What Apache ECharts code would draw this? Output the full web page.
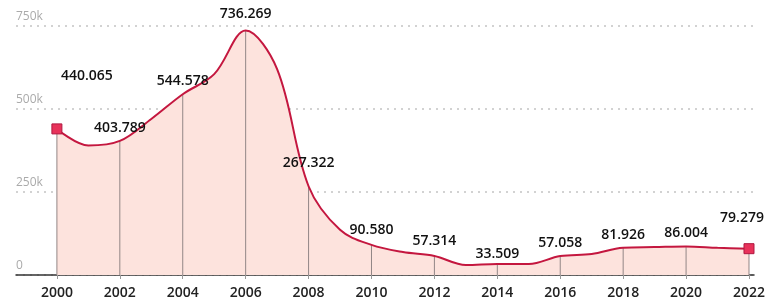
<!DOCTYPE html>
<html>
<head>
<meta charset="utf-8">
<script src="https://cdn.jsdelivr.net/npm/echarts@6/dist/echarts.min.js"></script>
<style>
  html, body { margin: 0; padding: 0; background: #fff; }
  #chart { width: 768px; height: 306px; }
</style>
</head>
<body>
<div id="chart"></div>
<script>
// years with a value label (every 2 years)
var labelYears = [2000, 2002, 2004, 2006, 2008, 2010, 2012, 2014, 2016, 2018, 2020, 2022];
var labelValues = [440065, 403789, 544578, 736269, 267322, 90580, 57314, 33509, 57058, 81926, 86004, 79279];
// odd years
var midYears = [2001, 2003, 2005, 2007, 2009, 2011, 2013, 2015, 2017, 2019, 2021];
var midValues = [390000, 470000, 605000, 620000, 136000, 69000, 30000, 33000, 63000, 84000, 82000];

// label nudges [dx, dy] per year
var labelShift = {
  2000: [30, -34], 2006: [0, -4], 2008: [0, -10], 2010: [0, -2],
  2012: [0, -2], 2014: [0, 3], 2022: [-7, -12]
};

var fmtValue = function (v) {
  var k = Math.floor(v / 1000);
  var r = String(v % 1000);
  while (r.length < 3) r = "0" + r;
  return k + "." + r;
};

var points = [];
labelYears.forEach(function (y, i) { points.push([y, labelValues[i]]); });
midYears.forEach(function (y, i) { points.push([y, midValues[i]]); });
points.sort(function (a, b) { return a[0] - b[0]; });

var lineData = points.map(function (p) {
  var isLabel = labelYears.indexOf(p[0]) >= 0;
  var isEnd = p[0] === 2000 || p[0] === 2022;
  var shift = labelShift[p[0]] || [0, 0];
  return {
    value: p,
    symbol: isEnd ? "rect" : (isLabel ? "circle" : "none"),
    symbolSize: isEnd ? 10 : 0,
    label: {
      show: isLabel,
      offset: shift
    }
  };
});

var dropData = labelYears.map(function (y, i) { return [y, labelValues[i]]; });

var chart = echarts.init(document.getElementById("chart"));
chart.setOption({
  animation: false,
  grid: { left: 16, right: 11, top: 26, bottom: 31 },
  xAxis: {
    type: "value",
    min: 1998.7,
    max: 2022.16,
    splitLine: { show: false },
    axisLine: { show: true, lineStyle: { color: "#333", width: 1.5 } },
    axisTick: {
      show: true,
      customValues: labelYears,
      length: 4,
      lineStyle: { color: "#999" }
    },
    axisLabel: {
      customValues: labelYears,
      color: "#222",
      fontFamily: "Open Sans",
      fontWeight: 600,
      fontSize: 14,
      margin: 11,
      formatter: function (v) { return String(v); }
    }
  },
  yAxis: {
    type: "value",
    min: 0,
    max: 750000,
    interval: 250000,
    axisLine: { show: false },
    axisTick: { show: false },
    splitLine: { lineStyle: { color: "#c4c4c4", type: [2, 5], width: 1.5 } },
    axisLabel: {
      inside: true,
      margin: 0,
      align: "left",
      verticalAlign: "bottom",
      padding: [0, 0, 3, 0],
      color: "#aaa",
      fontFamily: "Open Sans",
      fontSize: 12,
      formatter: function (v) { return v === 0 ? "0" : v / 1000 + "k"; }
    }
  },
  series: [
    {
      name: "area",
      type: "line",
      z: 1,
      smooth: 0.35,
      symbol: "none",
      lineStyle: { width: 0 },
      areaStyle: { color: "#fde3dd", opacity: 1 },
      data: points
    },
    {
      name: "drop",
      type: "bar",
      z: 2,
      barWidth: 1,
      itemStyle: { color: "#928686" },
      data: dropData
    },
    {
      name: "line",
      type: "line",
      z: 3,
      smooth: 0.35,
      lineStyle: { color: "#c4173f", width: 2 },
      itemStyle: { color: "#e8325a", borderColor: "#b01840", borderWidth: 1 },
      label: {
        position: "top",
        distance: 6,
        color: "#111",
        fontFamily: "Open Sans",
        fontWeight: 600,
        fontSize: 14,
        formatter: function (p) { return fmtValue(p.value[1]); }
      },
      data: lineData
    }
  ]
});
</script>
</body>
</html>
